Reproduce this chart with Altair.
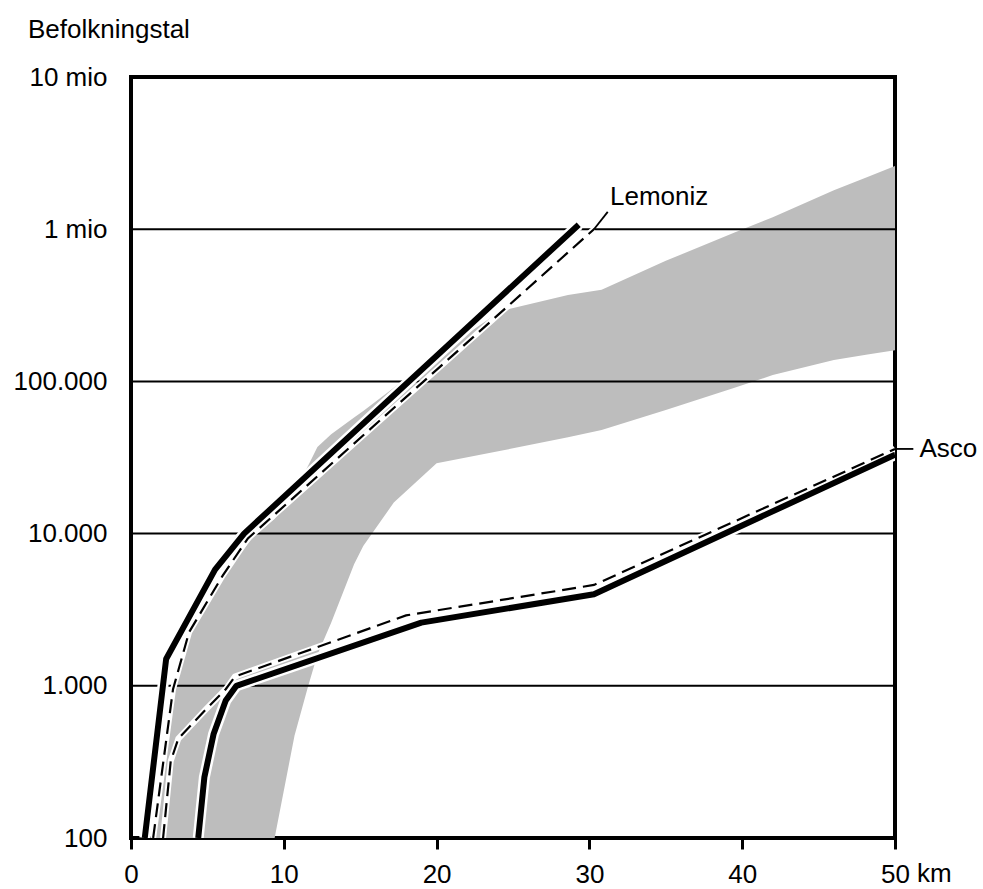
import altair as alt
import pandas as pd
import math

# ---- data ----
# Lemoniz (solid and dashed curve)
lem_solid_km = [0.9, 2.3, 5.5, 7.4, 29.3]
lem_solid_pop = [100, 1500, 5800, 10000, 1070000]
lem_dash_km = [1.45, 2.75, 3.8, 6.0, 7.65, 30.3]
lem_dash_pop = [100, 950, 2250, 5300, 9300, 1000000]

# Asco (solid and dashed curve)
asco_solid_km = [4.4, 4.8, 5.4, 6.2, 6.9, 19, 30.3, 50]
asco_solid_pop = [100, 250, 480, 800, 1000, 2600, 4000, 33000]
asco_dash_km = [2.1, 2.6, 3.1, 4.9, 6.2, 6.8, 18, 30.3, 50]
asco_dash_pop = [100, 320, 450, 700, 950, 1150, 2900, 4600, 36000]

# shaded band (upper and lower edge read at the same distances)
band_km = [1.3, 2.7, 4, 6, 8, 9.4, 10.7, 11.6, 12.2, 13.1, 14.6, 15.2, 17.2,
           20, 24.2, 28.6, 30.8, 35, 39.5, 42, 46, 48.2, 50]
band_upper = [100, 1000, 2300, 5300, 9500, 12500, 19000, 28000, 37000, 45000,
              58000, 64000, 91000, 150000, 290000, 370000, 400000, 620000,
              950000, 1200000, 1800000, 2200000, 2600000]
band_lower = [100, 100, 100, 100, 100, 100, 470, 1000, 1600, 2600, 6300, 8300,
              16000, 29000, 35000, 43000, 48000, 65000, 91000, 110000, 138000,
              150000, 160000]

# labels and leaders
label_names = ["Lemoniz", "Asco"]
label_km = [31.35, 51.6]
label_pop = [1620000, 36000]
lem_leader_km = [30.3, 31.2]
lem_leader_pop = [1000000, 1300000]
asco_leader_km = [50, 51.2]
asco_leader_pop = [36000, 36000]

grid_values = [1000, 10000, 100000, 1000000]
y_tick_values = [100, 1000, 10000, 100000, 1000000, 10000000]
y_tick_labels = ["100", "1.000", "10.000", "100.000", "1 mio", "10 mio"]
x_tick_values = [0, 10, 20, 30, 40, 50]
x_unit = "km"
y_title = "Befolkningstal"

FONT = "Liberation Sans"
FS = 26

# ---- build tables ----
def line_df(km, pop, name):
    return pd.DataFrame({"km": km, "pop": pop, "series": name, "order": range(len(km))})

solid_df = pd.concat([line_df(lem_solid_km, lem_solid_pop, "Lemoniz"),
                      line_df(asco_solid_km, asco_solid_pop, "Asco")])
dash_df = pd.concat([line_df(lem_dash_km, lem_dash_pop, "Lemoniz"),
                     line_df(asco_dash_km, asco_dash_pop, "Asco")])
leader_df = pd.concat([line_df(lem_leader_km, lem_leader_pop, "Lemoniz"),
                       line_df(asco_leader_km, asco_leader_pop, "Asco")])
band_df = pd.DataFrame({"km": band_km, "pop": band_upper, "low": band_lower})
grid_df = pd.DataFrame({"pop": grid_values})
label_df = pd.DataFrame({"km": label_km, "pop": label_pop, "name": label_names})
unit_df = pd.DataFrame({"km": [50], "pop": [100], "name": [x_unit]})
title_df = pd.DataFrame({"name": [y_title]})

# label expression for y axis
expr = "''"
for v, l in zip(y_tick_values, y_tick_labels):
    expr = f"(abs(log(datum.value)/log(10) - {math.log10(v)}) < 0.01) ? '{l}' : " + expr

x_scale = alt.Scale(domain=[0, 50], nice=False, zero=False)
y_scale = alt.Scale(type="log", domain=[100, 10000000], nice=False)

x_axis = alt.Axis(values=x_tick_values, title=None, domain=False, grid=False,
                  ticks=True, tickSize=11, tickWidth=3, tickColor="black",
                  labelFont=FONT, labelFontSize=FS, labelColor="black",
                  labelPadding=12, labelFlush=False, labelOverlap=False)
y_axis = alt.Axis(values=y_tick_values, title=None, domain=False, grid=False,
                  ticks=False, labelExpr=expr,
                  labelFont=FONT, labelFontSize=FS, labelColor="black",
                  labelPadding=24, labelFlush=False, labelOverlap=False)

X = alt.X("km:Q", scale=x_scale, axis=x_axis)
Y = alt.Y("pop:Q", scale=y_scale, axis=y_axis)

band = alt.Chart(band_df).mark_area(color="#bdbdbd", opacity=1, clip=True).encode(
    x=X, y=Y, y2=alt.Y2("low:Q"))

grid = alt.Chart(grid_df).mark_rule(color="black", strokeWidth=2).encode(y=Y)

solid_halo = alt.Chart(solid_df).mark_line(color="white", strokeWidth=11, clip=True).encode(
    x=X, y=Y, detail="series:N", order="order:Q")
dash_halo = alt.Chart(dash_df).mark_line(color="white", strokeWidth=6, clip=True).encode(
    x=X, y=Y, detail="series:N", order="order:Q")
dash = alt.Chart(dash_df).mark_line(color="black", strokeWidth=2.2, strokeDash=[14, 7], clip=True).encode(
    x=X, y=Y, detail="series:N", order="order:Q")
solid = alt.Chart(solid_df).mark_line(color="black", strokeWidth=6, strokeJoin="round", clip=True).encode(
    x=X, y=Y, detail="series:N", order="order:Q")
leader = alt.Chart(leader_df).mark_line(color="black", strokeWidth=1.8).encode(
    x=X, y=Y, detail="series:N", order="order:Q")
labels = alt.Chart(label_df).mark_text(font=FONT, fontSize=FS, align="left", baseline="middle",
                                       color="black").encode(x=X, y=Y, text="name:N")
unit = alt.Chart(unit_df).mark_text(font=FONT, fontSize=FS, align="left", baseline="top",
                                    color="black", dx=22, dy=23).encode(x=X, y=Y, text="name:N")
ytitle = alt.Chart(title_df).mark_text(font=FONT, fontSize=FS, align="left", baseline="middle",
                                       color="black").encode(
    x=alt.value(-103), y=alt.value(-47), text="name:N")

chart = alt.layer(band, grid, solid_halo, dash_halo, dash, solid, leader, labels, unit, ytitle).properties(
    width=764, height=761,
    autosize="none",
    padding={"left": 131, "top": 77, "right": 88, "bottom": 51},
    background="white",
).configure_view(stroke="black", strokeWidth=4)

chart.save("out.html", embed_options={"renderer": "svg", "actions": False})
